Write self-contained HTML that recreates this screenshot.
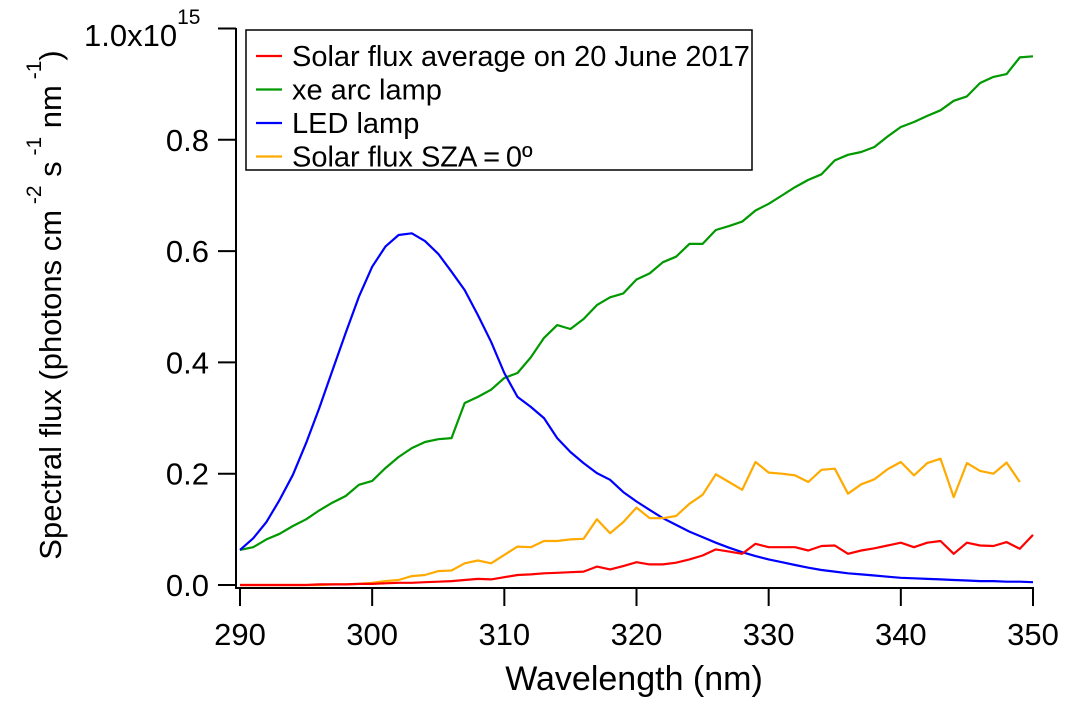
<!DOCTYPE html>
<html><head><meta charset="utf-8"><style>
body{margin:0;background:#fff;}
svg text{font-family:"Liberation Sans",sans-serif;fill:#000;}
</style></head><body>
<svg id="c" width="1070" height="705" viewBox="0 0 1070 705"></svg>
<script>
const wavelengths = Array.from({length:61},(_,i)=>290+i);
const solarAvg = [0,0,0,0,0,0,0.001,0.001,0.001,0.002,0.002,0.003,0.004,0.004,0.005,0.006,0.007,0.009,0.011,0.010,0.014,0.018,0.019,0.021,0.022,0.023,0.024,0.033,0.028,0.034,0.041,0.037,0.037,0.040,0.046,0.053,0.064,0.060,0.056,0.074,0.068,0.068,0.068,0.062,0.070,0.071,0.056,0.062,0.066,0.071,0.076,0.068,0.076,0.079,0.056,0.076,0.071,0.070,0.077,0.065,0.090];
const xeLamp = [0.063,0.068,0.082,0.092,0.106,0.118,0.134,0.148,0.160,0.180,0.187,0.210,0.230,0.246,0.257,0.262,0.264,0.327,0.338,0.351,0.372,0.381,0.409,0.444,0.467,0.460,0.478,0.503,0.517,0.524,0.549,0.560,0.580,0.590,0.613,0.613,0.638,0.645,0.653,0.673,0.685,0.700,0.715,0.728,0.738,0.763,0.773,0.778,0.787,0.806,0.823,0.832,0.843,0.853,0.870,0.878,0.902,0.913,0.918,0.948,0.950];
const ledLamp = [0.063,0.084,0.113,0.153,0.198,0.255,0.318,0.386,0.453,0.518,0.572,0.608,0.629,0.632,0.618,0.595,0.563,0.530,0.485,0.437,0.381,0.338,0.320,0.300,0.264,0.239,0.219,0.201,0.189,0.167,0.150,0.135,0.120,0.108,0.096,0.086,0.076,0.067,0.059,0.052,0.046,0.041,0.036,0.031,0.027,0.024,0.021,0.019,0.017,0.015,0.013,0.012,0.011,0.010,0.009,0.008,0.007,0.007,0.006,0.006,0.005];
const solarSza0 = [0,0,0,0,0,0,0,0.001,0.001,0.002,0.004,0.007,0.009,0.016,0.018,0.025,0.026,0.039,0.044,0.039,0.054,0.069,0.068,0.079,0.079,0.082,0.083,0.118,0.093,0.113,0.139,0.120,0.120,0.124,0.146,0.162,0.199,0.185,0.171,0.221,0.202,0.200,0.197,0.185,0.207,0.209,0.164,0.181,0.190,0.208,0.221,0.197,0.219,0.227,0.158,0.219,0.205,0.200,0.220,0.185];
const xTicks = [290,300,310,320,330,340,350];
const yTicks = [0,0.2,0.4,0.6,0.8];
const yTickLabels = ["0.0","0.2","0.4","0.6","0.8"];
const seriesNames = ["Solar flux average on 20 June 2017","xe arc lamp","LED lamp","Solar flux SZA\u2009=\u20090º"];

const NS="http://www.w3.org/2000/svg";
const svgEl=document.getElementById('c');
const X=v=>240+(v-290)*(1033-240)/60;
const Y=v=>585-v*556.5;
function mk(t,a,parent){const e=document.createElementNS(NS,t);for(const k in a)e.setAttribute(k,a[k]);(parent||svgEl).appendChild(e);return e;}

const yAxisLine=mk('line',{x1:236,y1:28,x2:236,y2:589,stroke:'#000','stroke-width':2});


const xAxisLine=mk('line',{x1:235,y1:588,x2:1034,y2:588,stroke:'#000','stroke-width':2});



xTicks.forEach(v=>{
  const l=mk('line',{x1:X(v),y1:588,x2:X(v),y2:606,stroke:'#000','stroke-width':2});
  
  
  const t=mk('text',{x:X(v),y:645,'text-anchor':'middle','font-size':31});
  t.textContent=v;
  
  
});
yTicks.forEach((v,i)=>{
  const l=mk('line',{x1:218,y1:Y(v),x2:236,y2:Y(v),stroke:'#000','stroke-width':2});
  
  
  const t=mk('text',{x:209,y:Y(v)+11,'text-anchor':'end','font-size':31});
  t.textContent=yTickLabels[i];
  
  
});
const topTick=mk('line',{x1:218,y1:Y(1),x2:236,y2:Y(1),stroke:'#000','stroke-width':2});


const topLabel=mk('text',{x:84,y:46,'font-size':31});
topLabel.innerHTML='1.0x10<tspan dy="-22" font-size="21">15</tspan>';



const xTitle=mk('text',{x:634,y:690,'text-anchor':'middle','font-size':34});
xTitle.textContent='Wavelength (nm)';


const yTitle=mk('text',{x:0,y:0,'font-size':31,'text-anchor':'middle',transform:'translate(61,305) rotate(-90)'});
yTitle.innerHTML='Spectral flux (photons cm<tspan dy="-20" font-size="21"> -2</tspan><tspan dy="20"> s</tspan><tspan dy="-20" font-size="21"> -1</tspan><tspan dy="20"> nm</tspan><tspan dy="-20" font-size="21"> -1</tspan><tspan dy="20">)</tspan>';



const seriesList=[[xeLamp,'#009900','xe-lamp-line'],[ledLamp,'#0000ff','led-lamp-line'],[solarSza0,'#ffaa00','solar-sza0-line'],[solarAvg,'#ff0000','solar-average-line']];
seriesList.forEach(([d,c,n])=>{
  const pts=d.map((v,i)=>X(wavelengths[i]).toFixed(1)+','+Y(v).toFixed(1)).join(' ');
  const p=mk('polyline',{points:pts,fill:'none',stroke:c,'stroke-width':2.2,'stroke-linejoin':'round'});
  
  
});

const legendGroup=mk('g',{});


mk('rect',{x:246,y:30,width:506,height:140,fill:'#fff',stroke:'#000','stroke-width':1.5},legendGroup);
const legendColors=['#ff0000','#009900','#0000ff','#ffaa00'];
seriesNames.forEach((s,i)=>{
  const yy=56+i*33.5;
  const l=mk('line',{x1:256,y1:yy,x2:282,y2:yy,stroke:legendColors[i],'stroke-width':2.2},legendGroup);
  
  
  const t=mk('text',{x:292,y:yy+10,'font-size':29},legendGroup);
  t.textContent=s;
  
  
});
</script>
</body></html>
